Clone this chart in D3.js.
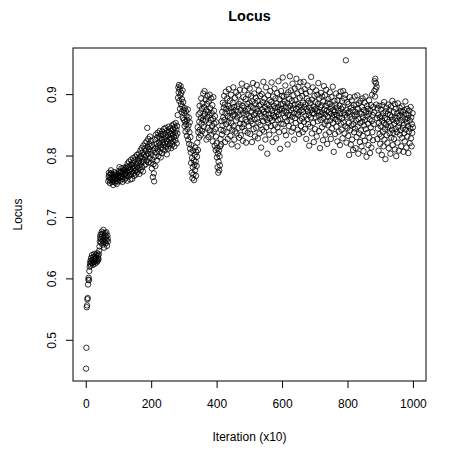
<!DOCTYPE html>
<html>
<head>
<meta charset="utf-8">
<script src="https://cdn.jsdelivr.net/npm/d3@7"></script>
<style>
  body { margin: 0; background: #fff; }
  text { font-family: "Liberation Sans", Arial, sans-serif; }
</style>
</head>
<body>
<div id="chart"></div>
<script>
// Locus trace, one value per saved iteration (x10)
var locus = [
  .453,.487,.553,.556,.566,.568,.590,.598,.601,.597,.612,.619,.624,.628,.621,.633,.626,.630,.638,.625,
  .629,.622,.635,.631,.627,.640,.636,.624,.632,.629,.638,.634,.626,.630,.641,.628,.637,.633,.631,.639,
  .645,.652,.660,.667,.671,.664,.658,.672,.676,.668,.655,.661,.673,.679,.666,.650,.659,.670,.674,.663,
  .657,.668,.675,.662,.653,.670,.665,.660,.758,.765,.772,.768,.760,.755,.763,.770,.776,.771,.762,.757,
  .764,.769,.760,.752,.758,.766,.773,.768,.761,.756,.763,.771,.767,.759,.754,.762,.770,.765,.758,.763,
  .768,.775,.781,.772,.764,.759,.766,.773,.779,.770,.762,.757,.765,.774,.780,.776,.768,.761,.769,.777,
  .771,.779,.764,.782,.768,.775,.759,.787,.772,.781,.766,.790,.776,.769,.784,.761,.778,.793,.770,.785,
  .774,.762,.788,.779,.796,.771,.783,.767,.792,.780,.775,.798,.769,.786,.777,.801,.782,.773,.794,.788,
  .779,.803,.791,.770,.797,.785,.808,.776,.799,.789,.812,.781,.795,.805,.774,.816,.790,.801,.784,.811,
  .797,.820,.786,.808,.800,.823,.792,.845,.814,.803,.827,.789,.810,.819,.796,.831,.806,.815,.788,.824,
  .802,.779,.817,.793,.765,.808,.786,.771,.758,.798,.826,.812,.783,.834,.805,.819,.792,.829,.810,.837,
  .815,.799,.831,.821,.806,.840,.818,.828,.797,.835,.813,.826,.804,.839,.822,.810,.833,.817,.843,.827,
  .808,.836,.820,.845,.814,.830,.824,.802,.841,.819,.833,.811,.847,.826,.838,.816,.829,.844,.821,.835,
  .812,.840,.828,.849,.818,.834,.843,.823,.851,.830,.815,.846,.837,.825,.853,.832,.842,.820,.848,.836,
  .866,.894,.911,.903,.915,.889,.908,.876,.898,.913,.884,.902,.871,.892,.880,.906,.861,.887,.874,.858,
  .869,.848,.877,.855,.839,.872,.851,.864,.832,.858,.843,.875,.826,.849,.862,.819,.838,.854,.811,.830,
  .805,.788,.817,.772,.796,.763,.781,.808,.769,.792,.760,.785,.801,.776,.813,.790,.767,.806,.783,.798,
  .821,.846,.809,.838,.867,.829,.855,.881,.842,.870,.833,.861,.893,.852,.876,.840,.885,.858,.901,.864,
  .847,.879,.905,.868,.836,.891,.857,.874,.826,.884,.862,.897,.845,.871,.830,.888,.853,.866,.899,.841,
  .877,.858,.893,.834,.869,.848,.882,.823,.860,.895,.839,.873,.852,.816,.864,.843,.809,.831,.854,.820,
  .797,.812,.781,.803,.772,.790,.808,.776,.799,.784,.815,.827,.842,.818,.856,.834,.871,.849,.886,.862,
  .840,.878,.897,.858,.883,.822,.869,.904,.851,.876,.838,.893,.864,.827,.881,.855,.908,.872,.845,.889,
  .861,.832,.877,.899,.853,.818,.871,.842,.886,.865,.911,.848,.879,.826,.867,.894,.839,.874,.857,.903,
  .836,.880,.862,.815,.871,.898,.845,.884,.829,.866,.907,.852,.888,.833,.874,.859,.917,.846,.881,.824,
  .869,.895,.851,.878,.906,.840,.873,.858,.892,.821,.867,.913,.855,.884,.837,.876,.899,.848,.865,.886,
  .909,.862,.835,.880,.856,.897,.871,.822,.888,.852,.918,.877,.843,.866,.901,.859,.831,.885,.869,.894,
  .845,.876,.915,.860,.889,.828,.872,.854,.906,.881,.836,.868,.897,.850,.883,.813,.864,.900,.875,.842,
  .887,.856,.920,.871,.839,.893,.862,.879,.826,.868,.911,.846,.884,.858,.803,.874,.898,.853,.882,.867,
  .834,.890,.861,.905,.876,.848,.887,.919,.857,.873,.822,.866,.896,.841,.881,.862,.909,.850,.877,.893,
  .864,.828,.885,.871,.902,.846,.879,.858,.921,.867,.838,.892,.874,.811,.859,.883,.905,.852,.876,.897,
  .869,.927,.884,.851,.896,.873,.840,.888,.862,.914,.879,.833,.870,.899,.856,.885,.818,.866,.903,.878,
  .848,.892,.866,.929,.881,.857,.906,.874,.839,.889,.863,.917,.877,.845,.898,.869,.826,.883,.909,.861,
  .890,.853,.876,.925,.868,.901,.842,.884,.866,.912,.879,.835,.871,.894,.857,.919,.882,.848,.905,.874,
  .860,.897,.838,.886,.871,.920,.855,.879,.908,.843,.883,.865,.901,.827,.876,.893,.859,.914,.872,.851,
  .889,.866,.816,.878,.904,.847,.885,.862,.928,.874,.836,.891,.869,.911,.853,.880,.822,.868,.897,.875,
  .843,.887,.862,.906,.877,.831,.872,.899,.856,.884,.918,.865,.840,.893,.871,.812,.879,.858,.902,.867,
  .882,.846,.896,.870,.825,.888,.861,.913,.875,.851,.898,.867,.834,.881,.907,.856,.873,.819,.886,.863,
  .849,.892,.871,.838,.884,.903,.857,.876,.827,.868,.895,.844,.880,.862,.912,.853,.874,.806,.866,.889,
  .871,.835,.883,.859,.901,.847,.878,.866,.823,.890,.856,.873,.839,.897,.862,.881,.817,.869,.904,.852,
  .876,.842,.889,.861,.828,.879,.905,.854,.870,.893,.836,.866,.899,.848,.955,.874,.821,.863,.887,.845,
  .869,.832,.884,.853,.801,.872,.895,.841,.863,.818,.878,.849,.890,.826,.860,.874,.809,.851,.882,.838,
  .865,.896,.844,.871,.812,.857,.883,.830,.867,.898,.847,.876,.803,.859,.885,.836,.870,.822,.853,.889,
  .841,.868,.815,.879,.855,.893,.832,.862,.807,.874,.849,.886,.824,.858,.896,.843,.871,.798,.864,.881,
  .837,.876,.852,.817,.868,.890,.829,.859,.804,.873,.846,.882,.813,.856,.899,.838,.866,.825,.879,.851,
  .870,.905,.921,.896,.925,.908,.918,.883,.912,.861,.827,.877,.844,.866,.808,.853,.881,.835,.862,.819,
  .848,.875,.831,.864,.801,.857,.882,.839,.869,.815,.853,.887,.826,.861,.843,.794,.872,.850,.878,.833,
  .859,.821,.868,.846,.883,.812,.855,.874,.836,.866,.803,.848,.880,.829,.863,.842,.889,.817,.858,.837,
  .871,.827,.852,.884,.810,.861,.843,.876,.799,.856,.838,.869,.821,.885,.847,.864,.808,.853,.878,.834,
  .866,.841,.872,.815,.857,.880,.829,.862,.845,.871,.806,.850,.836,.874,.823,.859,.888,.842,.867,.813,
  .854,.876,.831,.861,.848,.804,.866,.839,.873,.820,.857,.844,.879,.828,.862,.815,.851,.837,.869,.846
];
var xTicks = [0, 200, 400, 600, 800, 1000];
var yTicks = [0.5, 0.6, 0.7, 0.8, 0.9];

var width = 456, height = 450;
var box = { left: 73, right: 426, top: 48, bottom: 381 };

var pts = locus.map((v, i) => ({ iter: i + 1, value: v }));

// R style 4% padding on both axes
function pad(ext) {
  var d = (ext[1] - ext[0]) * 0.04;
  return [ext[0] - d, ext[1] + d];
}

var x = d3.scaleLinear()
  .domain(pad(d3.extent(pts, d => d.iter)))
  .range([box.left, box.right]);
var y = d3.scaleLinear()
  .domain(pad(d3.extent(pts, d => d.value)))
  .range([box.bottom, box.top]);

var svg = d3.select("#chart").append("svg")
  .attr("width", width)
  .attr("height", height);

svg.append("g")
  .selectAll("circle")
  .data(pts)
  .join("circle")
    .attr("cx", d => x(d.iter))
    .attr("cy", d => y(d.value))
    .attr("r", 2.7)
    .attr("fill", "none")
    .attr("stroke", "#000")
    .attr("stroke-width", 0.8);

svg.append("rect")
  .attr("x", box.left)
  .attr("y", box.top)
  .attr("width", box.right - box.left)
  .attr("height", box.bottom - box.top)
  .attr("fill", "none")
  .attr("stroke", "#000")
  .attr("stroke-width", 1);

var xAxis = svg.append("g")
  .attr("transform", `translate(0,${box.bottom})`)
  .call(d3.axisBottom(x).tickValues(xTicks).tickSize(7).tickPadding(11).tickFormat(d3.format("d")));
xAxis.select(".domain").remove();

var yAxis = svg.append("g")
  .attr("transform", `translate(${box.left},0)`)
  .call(d3.axisLeft(y).tickValues(yTicks).tickSize(7).tickFormat(d3.format(".1f")));
yAxis.select(".domain").remove();
yAxis.selectAll("text")
  .attr("x", null).attr("dy", null)
  .attr("text-anchor", "middle")
  .attr("dominant-baseline", "central")
  .attr("transform", d => `translate(${-21},0) rotate(-90)`);

svg.selectAll(".tick text")
  .attr("font-family", '"Liberation Sans", Arial, sans-serif')
  .attr("font-size", 12)
  .attr("fill", "#000");
svg.selectAll(".tick line").attr("stroke", "#000");

svg.append("text")
  .attr("x", (box.left + box.right) / 2)
  .attr("y", 21)
  .attr("text-anchor", "middle")
  .attr("font-size", 14.4)
  .attr("font-weight", "bold")
  .text("Locus");

svg.append("text")
  .attr("x", (box.left + box.right) / 2)
  .attr("y", 441)
  .attr("text-anchor", "middle")
  .attr("font-size", 12)
  .text("Iteration (x10)");

svg.append("text")
  .attr("transform", `translate(22,${(box.top + box.bottom) / 2}) rotate(-90)`)
  .attr("text-anchor", "middle")
  .attr("font-size", 12)
  .text("Locus");
</script>
</body>
</html>
